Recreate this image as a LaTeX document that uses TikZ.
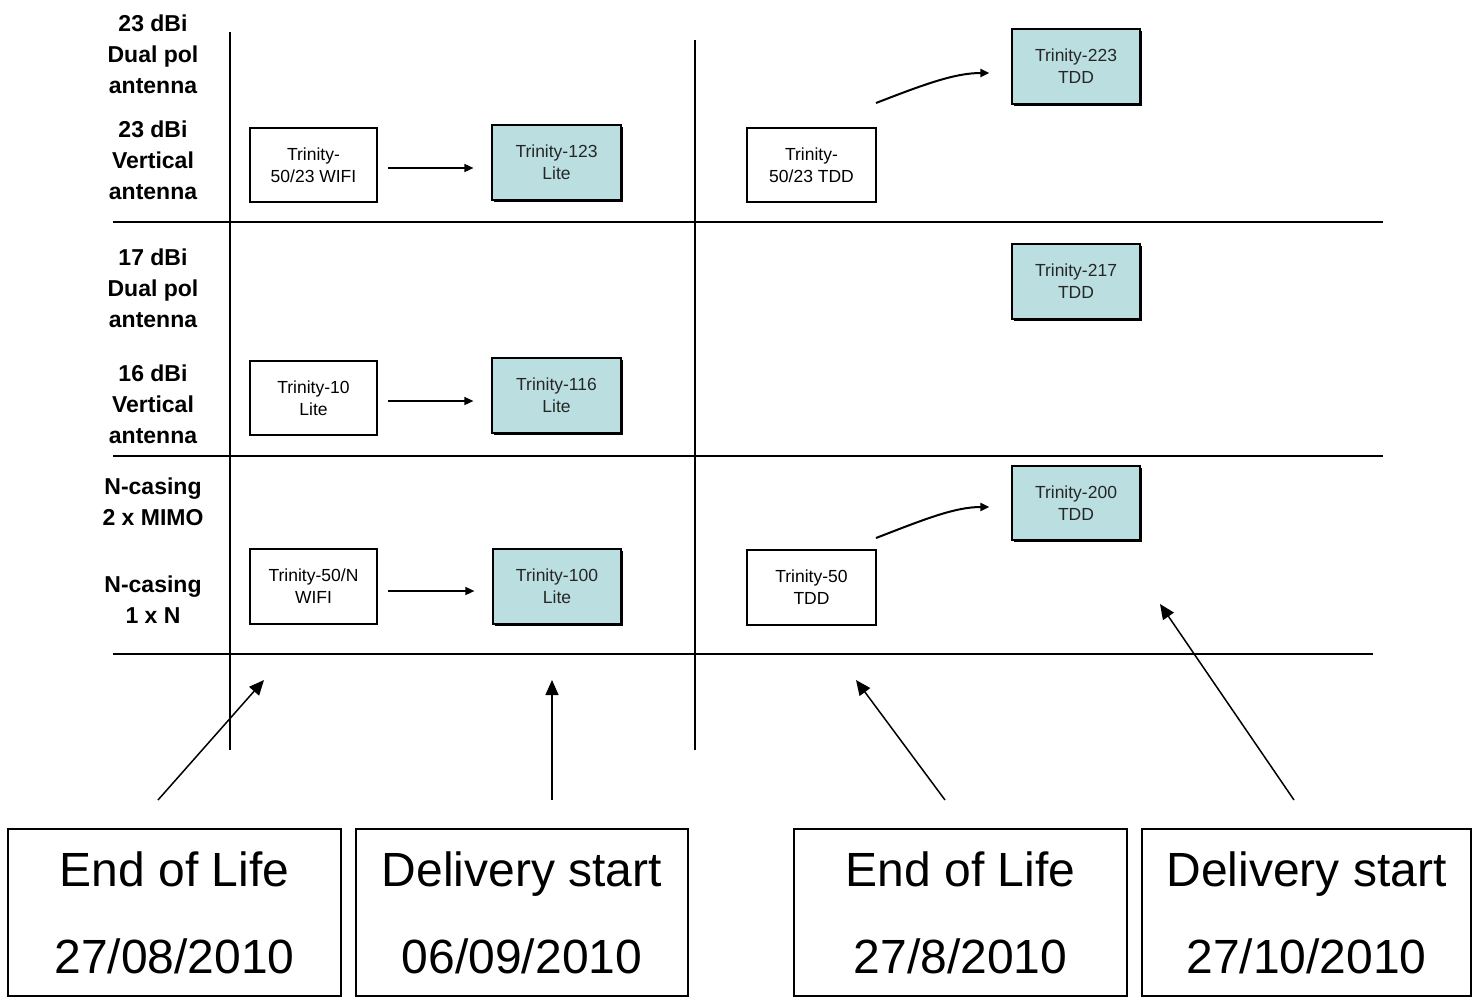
\documentclass[tikz,border=0pt]{standalone}
\usepackage{fontspec}
\setmainfont{Liberation Sans}
\usetikzlibrary{arrows.meta,shadows}
\definecolor{boxcyan}{HTML}{BBDFE1}
\begin{document}
\begin{tikzpicture}[x=1pt,y=-1pt,
  grid/.style={line width=2pt},
  rowlabel/.style={align=center,font=\fontsize{23}{31}\selectfont\bfseries,inner sep=0pt},
  whitebox/.style={draw,line width=1.6pt,fill=white,align=center,inner sep=0pt,
     font=\fontsize{17.5}{22}\selectfont},
  cyanbox/.style={draw,line width=1.2pt,fill=boxcyan,align=center,inner sep=0pt,
     text=black!85,font=\fontsize{17.5}{22}\selectfont,
     drop shadow={shadow xshift=1.5pt,shadow yshift=-1.5pt,fill=black,opacity=1}},
  datebox/.style={draw,line width=1.2pt,fill=white,align=center,inner sep=0pt,
     font=\fontsize{48}{87}\selectfont,minimum height=167pt},
  arr/.style={line width=1.5pt,-{Triangle[length=9pt,width=8pt]}},
  carr/.style={line width=2pt,-{Triangle[length=9pt,width=8pt]}},
  darr/.style={line width=1.5pt,-{Triangle[length=15pt,width=13pt]}}
]
\useasboundingbox (0,0) rectangle (1472,1001);

% grid lines
\coordinate (v1t) at (230,32);  \coordinate (v1b) at (230,750);
\coordinate (v2t) at (695,40);  \coordinate (v2b) at (695,750);
\coordinate (h1l) at (113,222); \coordinate (h1r) at (1383,222);
\coordinate (h2l) at (113,456); \coordinate (h2r) at (1383,456);
\coordinate (h3l) at (113,654); \coordinate (h3r) at (1373,654);
\draw[grid] (v1t) -- (v1b);
\draw[grid] (v2t) -- (v2b);
\draw[grid] (h1l) -- (h1r);
\draw[grid] (h2l) -- (h2r);
\draw[grid] (h3l) -- (h3r);

% row labels
\node[rowlabel] (l1) at (153,54) {23 dBi\\Dual pol\\antenna};
\node[rowlabel] (l2) at (153,160) {23 dBi\\Vertical\\antenna};
\node[rowlabel] (l3) at (153,288) {17 dBi\\Dual pol\\antenna};
\node[rowlabel] (l4) at (153,404) {16 dBi\\Vertical\\antenna};
\node[rowlabel] (l5) at (153,502) {N-casing\\2 x MIMO};
\node[rowlabel] (l6) at (153,600) {N-casing\\1 x N};

% product boxes
\node[whitebox,minimum width=127pt,minimum height=74pt] (w1) at (313.5,165) {Trinity-\\50/23 WIFI};
\node[cyanbox,minimum width=129pt,minimum height=75pt] (c123) at (556.5,162.5) {Trinity-123\\Lite};
\node[whitebox,minimum width=127pt,minimum height=74pt] (w10) at (313.5,398) {Trinity-10\\Lite};
\node[cyanbox,minimum width=129pt,minimum height=75pt] (c116) at (556.5,395.5) {Trinity-116\\Lite};
\node[whitebox,minimum width=127pt,minimum height=75pt] (w50n) at (313.5,586.5) {Trinity-50/N\\WIFI};
\node[cyanbox,minimum width=128pt,minimum height=75pt] (c100) at (557,586.5) {Trinity-100\\Lite};
\node[whitebox,minimum width=129pt,minimum height=74pt] (wt23) at (811.5,165) {Trinity-\\50/23 TDD};
\node[cyanbox,minimum width=128pt,minimum height=75pt] (c223) at (1076,66.5) {Trinity-223\\TDD};
\node[cyanbox,minimum width=128pt,minimum height=75pt] (c217) at (1076,281.5) {Trinity-217\\TDD};
\node[cyanbox,minimum width=128pt,minimum height=74pt] (c200) at (1076,503) {Trinity-200\\TDD};
\node[whitebox,minimum width=129pt,minimum height=75pt] (wt50) at (811.5,587.5) {Trinity-50\\TDD};

% straight arrows
\draw[arr] ([xshift=10pt,yshift=-3pt]w1.east) -- ([xshift=-18pt,yshift=-5.5pt]c123.west);
\draw[arr] ([xshift=10pt,yshift=-3pt]w10.east) -- ([xshift=-18pt,yshift=-5.5pt]c116.west);
\draw[arr] ([xshift=10pt,yshift=-4.5pt]w50n.east) -- ([xshift=-18pt,yshift=-4.5pt]c100.west);

% curved arrows
\coordinate (cs1) at (876,103); \coordinate (ce1) at ([xshift=-22pt,yshift=-6.5pt]c223.west);
\coordinate (cs2) at (876,538); \coordinate (ce2) at ([xshift=-22pt,yshift=-4pt]c200.west);
\draw[carr] (cs1) .. controls (925,84) and (955,73) .. (ce1);
\draw[carr] (cs2) .. controls (925,519) and (955,507) .. (ce2);

% date boxes
\node[datebox,minimum width=333pt] (eol1) at (174.5,912.5) {End of Life\\27/08/2010};
\node[datebox,minimum width=332pt] (ds1) at (522,912.5) {Delivery start\\06/09/2010};
\node[datebox,minimum width=333pt] (eol2) at (960.5,912.5) {End of Life\\27/8/2010};
\node[datebox,minimum width=329pt] (ds2) at (1306.5,912.5) {Delivery start\\27/10/2010};

% pointer arrows
\coordinate (p1s) at (158,800); \coordinate (p1e) at (264,680);
\coordinate (p2s) at (552,800); \coordinate (p2e) at (552,680);
\coordinate (p3s) at (945,800); \coordinate (p3e) at (856,680);
\coordinate (p4s) at (1294,800); \coordinate (p4e) at (1160,604);
\draw[darr] (p1s) -- (p1e);
\draw[darr] (p2s) -- (p2e);
\draw[darr] (p3s) -- (p3e);
\draw[darr] (p4s) -- (p4e);
\end{tikzpicture}
\end{document}
